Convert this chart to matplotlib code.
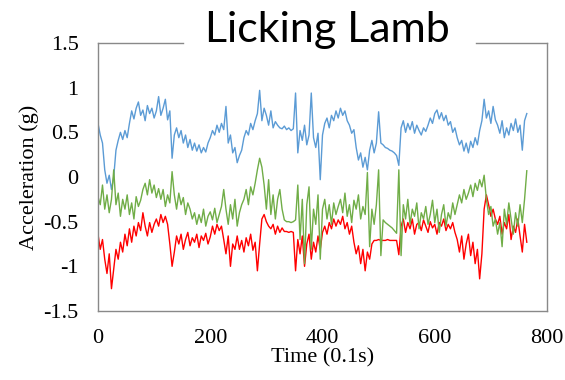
import numpy as np
import matplotlib.pyplot as plt

# accelerometer axes sampled every 0.4 s (time axis in units of 0.1 s)
blue = [0.60, 0.47, 0.38,
        0.08, -0.07, 0.02, -0.14, 0.00,
        0.30, 0.41,
        0.50, 0.42, 0.52, 0.44,
        0.60, 0.74, 0.65, 0.77, 0.84, 0.69, 0.75, 0.63, 0.80, 0.71,
        0.77, 0.66, 0.74, 0.90, 0.69, 0.77, 0.87, 0.64, 0.74,
        0.21, 0.47,
        0.55, 0.44, 0.52, 0.38, 0.47, 0.33, 0.42, 0.30, 0.38,
        0.29, 0.36, 0.27, 0.33, 0.28, 0.38,
        0.44, 0.52, 0.47, 0.58, 0.50, 0.60, 0.53,
        0.79,
        0.38, 0.47, 0.27, 0.33, 0.16, 0.24, 0.30,
        0.44, 0.52, 0.47, 0.60, 0.53, 0.63,
        0.71, 0.97, 0.63, 0.77, 0.69, 0.58, 0.74, 0.55, 0.62,
        0.58, 0.55, 0.54, 0.57, 0.53, 0.55, 0.52, 0.54,
        0.94, 0.27,
        0.52, 0.41, 0.58, 0.36, 0.47, 0.94, 0.44, 0.33, 0.49, -0.03,
        0.47, 0.60, 0.66, 0.55, 0.69, 0.63, 0.74, 0.66,
        0.77, 0.69, 0.74, 0.63,
        0.58, 0.49, 0.53,
        0.33, 0.19, 0.27, 0.11, 0.22, 0.08,
        0.30, 0.41, 0.27, 0.38,
        0.73,
        0.38, 0.36, 0.33, 0.32, 0.30, 0.29, 0.27, 0.24,
        0.13,
        0.55, 0.63, 0.50, 0.60, 0.53, 0.62, 0.49, 0.58, 0.52, 0.47, 0.55, 0.51,
        0.58, 0.66, 0.60, 0.71, 0.75, 0.65, 0.72, 0.63, 0.69, 0.58, 0.62, 0.50, 0.55,
        0.44, 0.36, 0.41, 0.29, 0.38, 0.27, 0.40, 0.33, 0.44, 0.36,
        0.52, 0.63, 0.87, 0.66, 0.74, 0.60, 0.79, 0.64,
        0.58, 0.49, 0.63, 0.44, 0.55, 0.47, 0.60, 0.52, 0.65, 0.50, 0.58, 0.30, 0.63, 0.71]

green = [-0.22, -0.31, -0.09, -0.36, -0.20, -0.40, -0.25, 0.08,
         -0.31, -0.18, -0.44, -0.25, -0.36, -0.20, -0.42, -0.29, -0.47, -0.22, -0.33, -0.26,
         -0.14, -0.07, -0.20, -0.03, -0.18, -0.09, -0.23, -0.13,
         -0.25, -0.14, -0.33, -0.20, -0.29,
         0.06,
         -0.20, -0.36, -0.18, -0.31, -0.23, -0.42, -0.29,
         -0.36, -0.47, -0.40, -0.53, -0.42, -0.51, -0.36, -0.55, -0.44, -0.39,
         -0.48, -0.35, -0.51, -0.42, -0.33,
         -0.14,
         -0.36, -0.53, -0.31, -0.47, -0.25, -0.55, -0.40, -0.31,
         -0.25, -0.14, -0.31, -0.11, -0.20, -0.07,
         0.08, 0.21, 0.11,
         -0.09, -0.36, -0.03, -0.42, -0.20, -0.47,
         -0.25, -0.14, -0.36,
         -0.48, -0.50, -0.50, -0.51, -0.50, -0.48,
         -0.09, -0.70, -0.25, -0.97, -0.31, -0.11, -0.81, -0.36, -0.53, -0.20, -0.92,
         -0.36, -0.25, -0.47, -0.31, -0.53, -0.29, -0.42, -0.33,
         -0.25, -0.40, -0.18, -0.44, -0.31, -0.51, -0.26, -0.36, -0.20, -0.47, -0.33, -0.42,
         0.05, -0.78,
         -0.36, -0.53, -0.31,
         0.08, -0.88,
         -0.48, -0.51, -0.53, -0.55, -0.57, -0.60, -0.63,
         0.08, -0.88,
         -0.31, -0.47, -0.25, -0.53, -0.36, -0.44, -0.29, -0.58, -0.40, -0.47, -0.33, -0.53,
         -0.42, -0.26, -0.51, -0.36, -0.62, -0.42, -0.31, -0.55, -0.40, -0.47, -0.29, -0.42,
         -0.31, -0.20, -0.29, -0.14, -0.25, -0.18, -0.09, -0.22, -0.07, -0.15, -0.03, -0.11,
         0.02,
         -0.25, -0.42, -0.33, -0.55, -0.47, -0.64, -0.51, -0.78,
         -0.36, -0.53, -0.29, -0.47, -0.64, -0.40, -0.55, -0.31, -0.51, -0.25,
         0.07]

red = [-0.64, -0.81, -0.70,
       -0.92, -1.08, -0.86, -1.25, -1.03,
       -0.81, -0.92, -0.73, -0.84, -0.64, -0.77, -0.58, -0.73, -0.55, -0.66, -0.51, -0.60,
       -0.40,
       -0.55, -0.66, -0.51, -0.62, -0.53,
       -0.47, -0.55, -0.42, -0.51, -0.44, -0.53,
       -0.75, -1.00, -0.84,
       -0.66, -0.75, -0.64, -0.81, -0.70, -0.62, -0.77, -0.68, -0.73, -0.64, -0.79,
       -0.66, -0.71, -0.63, -0.75, -0.67,
       -0.55, -0.64, -0.53, -0.60, -0.55,
       -0.70, -0.86, -0.66, -1.00, -0.75, -0.81,
       -0.66, -0.81, -0.71, -0.84, -0.68, -0.77, -0.64, -0.82, -0.73, -1.05, -0.75,
       -0.47, -0.42, -0.50, -0.55,
       -0.58, -0.53, -0.64, -0.55, -0.62, -0.57,
       -0.61, -0.61, -0.62, -0.61, -0.62,
       -1.05,
       -0.70, -0.86, -0.66, -1.00, -0.75, -0.64, -0.92, -0.73, -0.84, -0.66, -0.81,
       -0.62, -0.55, -0.64, -0.51, -0.58, -0.47, -0.55, -0.48,
       -0.53, -0.44, -0.58, -0.51, -0.64, -0.55,
       -0.73, -0.86, -0.77, -0.97, -0.81, -1.05, -0.84, -0.92, -0.75,
       -0.71, -0.71, -0.70, -0.71, -0.71, -0.71, -0.70, -0.71, -0.71, -0.71, -0.71,
       -0.87,
       -0.55, -0.47, -0.62, -0.51, -0.58, -0.47, -0.64, -0.53, -0.51, -0.60, -0.48, -0.55,
       -0.62, -0.50, -0.57, -0.53, -0.64, -0.51, -0.55, -0.47, -0.60, -0.53, -0.58, -0.51, -0.62,
       -0.70, -0.84, -0.66, -0.92, -0.75, -0.64, -0.88, -0.73, -0.97, -0.81, -1.14, -0.86,
       -0.36, -0.20, -0.31, -0.44, -0.36, -0.47,
       -0.53, -0.44, -0.64, -0.51, -0.58, -0.42, -0.70, -0.55, -0.62, -0.47, -0.66, -0.84, -0.53, -0.73]

step = 4
time = np.arange(len(blue)) * step

yticks = [-1.5, -1, -0.5, 0, 0.5, 1, 1.5]
ytick_labels = ['-1.5', '-1', '-0.5', '0', '0.5', '1', '1.5']
xticks = [0, 200, 400, 600, 800]

plt.rcParams['font.family'] = 'Liberation Serif'

fig = plt.figure(figsize=(5.65, 3.8), dpi=100)
ax = fig.add_axes([98 / 565, 1 - 311 / 380, 449 / 565, 268 / 380])

ax.plot(time, blue, color='#5B9BD5', lw=1.0)
ax.plot(time, red, color='#FF0000', lw=1.0)
ax.plot(time, green, color='#70AD47', lw=1.0)

ax.set_xlim(0, 800)
ax.set_ylim(-1.5, 1.5)
ax.set_xticks(xticks)
ax.set_yticks(yticks)
ax.set_yticklabels(ytick_labels)
ax.tick_params(length=0, labelsize=16)
ax.tick_params(axis='x', pad=13)
ax.tick_params(axis='y', pad=14)

ax.set_xlabel('Time (0.1s)', fontsize=16, labelpad=0)
ax.set_ylabel('Acceleration (g)', fontsize=16, labelpad=3)

spine_col = '#898989'
for s in ['left', 'right', 'bottom']:
    ax.spines[s].set_color(spine_col)
    ax.spines[s].set_linewidth(1.0)
ax.spines['top'].set_visible(False)
# top frame broken where the title sits
ax.plot([0, 0.189], [1, 1], transform=ax.transAxes, color=spine_col, lw=1.0, clip_on=False)
ax.plot([0.842, 1], [1, 1], transform=ax.transAxes, color=spine_col, lw=1.0, clip_on=False)

fig.text(327 / 565, 1 - 42 / 380, 'Licking Lamb', family='Lato', fontsize=31,
         ha='center', va='baseline')

fig.savefig('out.png', dpi=100)
